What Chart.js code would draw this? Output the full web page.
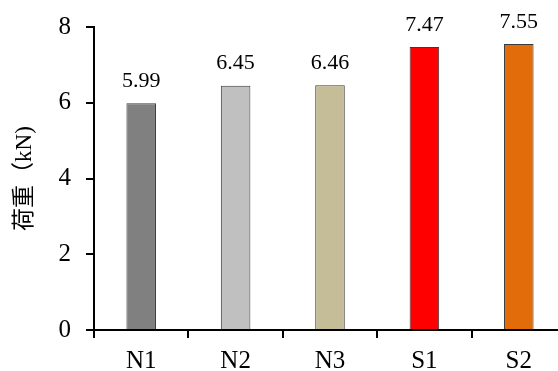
<!DOCTYPE html>
<html>
<head>
<meta charset="utf-8">
<script src="https://cdn.jsdelivr.net/npm/chart.js@4/dist/chart.umd.min.js"></script>
<style>
  html, body { margin: 0; padding: 0; overflow: hidden; background: #fff; width: 558px; height: 371px; }
  #wrap { width: 566px; height: 371px; }
</style>
</head>
<body>
<div id="wrap"><canvas id="c" width="566" height="371"></canvas></div>
<script>
// Specimen groups and peak load (kN)
const categories = ['N1', 'N2', 'N3', 'S1', 'S2'];
const loads = [5.99, 6.45, 6.46, 7.47, 7.55];
const barColors = ['#808080', '#c0c0c0', '#c4bd97', '#ff0000', '#e36c0a'];
const yTicks = [0, 2, 4, 6, 8];

const serif = "'Liberation Serif', 'Times New Roman', Times, serif";

// Writes each bar's value above it
const valueLabels = {
  id: 'valueLabels',
  afterDatasetsDraw(chart) {
    const ctx = chart.ctx;
    const meta = chart.getDatasetMeta(0);
    ctx.save();
    ctx.font = '22px ' + serif;
    ctx.fillStyle = '#000';
    ctx.textAlign = 'center';
    ctx.textBaseline = 'middle';
    meta.data.forEach((bar, i) => {
      ctx.fillText(loads[i].toFixed(2), bar.x, bar.y - 22);
    });
    ctx.restore();
  }
};

function draw() {
  new Chart(document.getElementById('c'), {
    type: 'bar',
    data: {
      labels: categories,
      datasets: [{
        data: loads,
        backgroundColor: barColors,
        borderColor: '#3a3a3a',
        borderWidth: 1,
        categoryPercentage: 1,
        barPercentage: 0.313
      }]
    },
    options: {
      responsive: false,
      animation: false,
      layout: { padding: { top: 27, right: 0, bottom: 0, left: 0 } },
      plugins: { legend: { display: false }, tooltip: { enabled: false } },
      scales: {
        x: {
          grid: { drawOnChartArea: false, color: '#000', lineWidth: 2, tickLength: 8 },
          border: { color: '#000', width: 2 },
          ticks: { color: '#000', font: { family: serif, size: 25 }, padding: 8 },
          afterFit(s) { s.height = 41; }
        },
        y: {
          min: 0,
          max: 8,
          afterBuildTicks(s) { s.ticks = yTicks.map(v => ({ value: v })); },
          grid: { drawOnChartArea: false, color: '#000', lineWidth: 2, tickLength: 8 },
          border: { color: '#000', width: 2 },
          ticks: { color: '#000', font: { family: serif, size: 25, lineHeight: 0.8 }, padding: 15 },
          title: {
            display: true,
            text: '荷重（kN)',
            color: '#000',
            font: { family: serif + ", 'Noto Sans CJK SC'", size: 23, lineHeight: 2.2 },
            padding: 0
          },
          afterFit(s) { s.width = 94; }
        }
      }
    },
    plugins: [valueLabels]
  });
}

Promise.all([
  document.fonts.load("25px 'Liberation Serif'"),
  document.fonts.load("23px 'Noto Sans CJK SC'", '荷重')
]).then(draw, draw);
</script>
</body>
</html>
